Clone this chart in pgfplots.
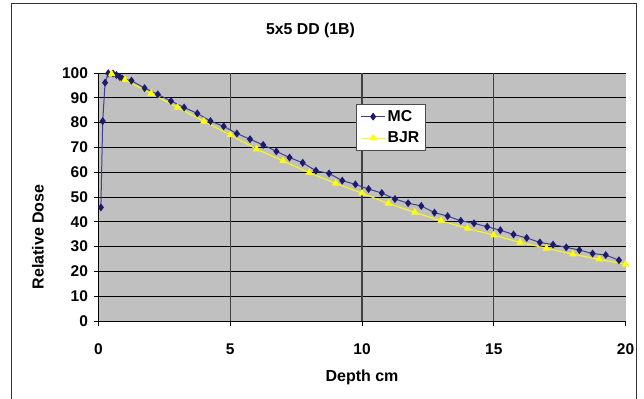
\documentclass[border=0pt]{standalone}
\usepackage{pgfplots}
\pgfplotsset{compat=1.18}
\usepackage{fontspec}
\setmainfont{Liberation Sans}

\definecolor{mcline}{HTML}{3F3F95}
\definecolor{mcmark}{HTML}{1C1C6B}
\definecolor{bjr}{HTML}{FFFF00}
\definecolor{plotbg}{HTML}{C0C0C0}

\pgfplotstableread{
depth dose
0.09  45.8
0.16  80.6
0.25  96.1
0.37  99.9
0.55  99.8
0.68  99.2
0.80  98.5
0.90  97.8
1.25  96.9
1.75  93.9
2.25  91.4
2.75  88.7
3.25  86.1
3.75  83.7
4.25  80.6
4.75  78.5
5.25  75.6
5.75  73.3
6.25  71.0
6.75  68.4
7.25  65.9
7.75  63.8
8.25  60.6
8.75  59.5
9.25  56.6
9.75  55.1
10.25 53.2
10.75 51.6
11.25 49.2
11.75 47.5
12.25 46.4
12.75 43.7
13.25 42.3
13.75 40.4
14.25 39.4
14.75 38.0
15.25 36.6
15.75 34.9
16.25 33.5
16.75 31.7
17.25 30.8
17.75 29.7
18.25 28.6
18.75 27.2
19.25 26.6
19.75 24.5
}\mcdata

\pgfplotstableread{
depth dose
0.5  99.6
1    97.2
2    91.7
3    86.1
4    80.5
5    75.0
6    69.3
7    64.5
8    59.8
9    55.5
10   51.5
11   47.4
12   43.8
13   40.4
14   37.3
15   34.6
16   31.7
17   29.3
18   26.9
19   24.9
20   22.8
}\bjrdata

\begin{document}
\begin{tikzpicture}[x=1bp,y=1bp]
\path[use as bounding box] (0,0) rectangle (644,398);
% chart frame
\draw[line width=1bp, black!80] (11,-10) -- (11,394) -- (636,394) -- (636,-10);
% title
\node[font=\bfseries\fontsize{15.8bp}{18bp}\selectfont] at (310.5,368) {5x5 DD (1B)};
\begin{axis}[
  at={(98.5bp,77bp)}, anchor=south west,
  scale only axis, width=527bp, height=248bp,
  xmin=0, xmax=20, ymin=0, ymax=100,
  xtick={0,5,10,15,20}, ytick={0,10,...,100},
  axis background/.style={fill=plotbg},
  axis x line*=bottom, axis y line*=left,
  axis line style={-, black, line width=0.8bp},
  tick align=outside, major tick length=5bp,
  tick style={black, line width=0.8bp},
  ymajorgrids, major y grid style={black, line width=0.7bp},
  /pgf/number format/assume math mode=true,
  tick label style={font=\bfseries\fontsize{15.5bp}{18bp}\selectfont},
  xticklabel style={yshift=-14bp},
  yticklabel style={xshift=-2bp},
  xlabel={Depth cm}, ylabel={Relative Dose},
  label style={font=\bfseries\fontsize{16bp}{18bp}\selectfont},
  xlabel style={at={(rel axis cs:0.5,-0.226)}, anchor=center},
  ylabel style={at={(rel axis cs:-0.1148,0.339)}, anchor=center},
  legend style={at={(rel axis cs:0.489,0.875)}, anchor=north west,
    draw=black!70, fill=white, line width=0.8bp,
    font=\bfseries\fontsize{15.8bp}{18bp}\selectfont,
    inner xsep=4bp, inner ysep=4bp, row sep=5bp},
  legend cell align=left,
  legend image code/.code={
    \draw[#1, mark repeat=2, mark phase=2] plot coordinates {(0bp,0bp) (12bp,0bp) (24bp,0bp)};},
]
\pgfplotsinvokeforeach{5,10,15}{
  \draw[black!75, line width=1.1bp] (axis cs:#1,0) -- (axis cs:#1,100);
}
\addplot[color=mcline, line width=1bp, mark=diamond*,
  mark options={fill=mcmark, draw=mcmark, mark size=3.2bp}]
  table[x=depth, y=dose] {\mcdata};
\addlegendentry{MC}
\addplot[color=bjr, line width=1bp, mark=triangle*,
  mark options={fill=bjr, draw=bjr, mark size=3.4bp}]
  table[x=depth, y=dose] {\bjrdata};
\addlegendentry{BJR}
\end{axis}
\end{tikzpicture}
\end{document}
